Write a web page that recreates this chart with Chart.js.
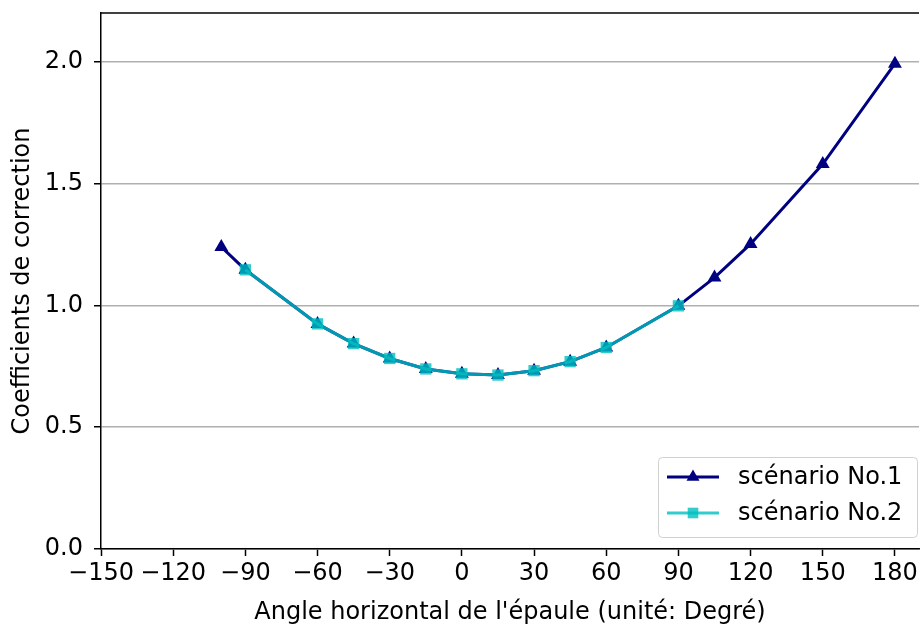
<!DOCTYPE html>
<html>
<head>
<meta charset="utf-8">
<script src="https://cdn.jsdelivr.net/npm/chart.js@4.4.1/dist/chart.umd.min.js"></script>
<style>
  html, body { margin: 0; padding: 0; background: #fff; overflow: hidden; }
  /* the reference figure is cropped on the right, so the plot runs past the window edge */
  #wrap { width: 927px; height: 624px; position: relative; }
</style>
</head>
<body>
<div id="wrap"><canvas id="chart"></canvas></div>
<script>
// angles (degrees) and correction coefficients
const angles1 = [-100, -90, -60, -45, -30, -15, 0, 15, 30, 45, 60, 90, 105, 120, 150, 180];
const coef1   = [1.24, 1.146, 0.924, 0.843, 0.782, 0.739, 0.719, 0.714, 0.732, 0.769, 0.827, 0.998, 1.114, 1.252, 1.58, 1.992];
const angles2 = [-90, -60, -45, -30, -15, 0, 15, 30, 45, 60, 90];
const coef2   = [1.146, 0.924, 0.843, 0.782, 0.739, 0.719, 0.714, 0.732, 0.769, 0.827, 0.998];
const seriesNames = ['scénario No.1', 'scénario No.2'];

const NAVY = '#000080';
const CYAN = 'rgba(0,191,191,0.8)';
const FONT = 'DejaVu Sans';
const FSIZE = 24;

const toPoints = (xs, ys) => xs.map((x, i) => ({ x: x, y: ys[i] }));
const minus = v => String(v).replace('-', '\u2212');

// top spine + legend inside the plot, like matplotlib
const framePlugin = {
    id: 'frame',
    afterDraw(chart) {
        const ctx = chart.ctx;
        const a = chart.chartArea;
        ctx.save();
        ctx.strokeStyle = '#000';
        ctx.lineWidth = 1.5;
        ctx.beginPath();
        ctx.moveTo(a.left, a.top);
        ctx.lineTo(a.right, a.top);
        ctx.stroke();

        // legend box
        const bx = 658, by = 457, bw = 259, bh = 80, r = 4;
        ctx.fillStyle = 'rgba(255,255,255,0.8)';
        ctx.strokeStyle = '#d0d0d0';
        ctx.lineWidth = 1;
        ctx.beginPath();
        ctx.roundRect(bx + 0.5, by + 0.5, bw, bh, r);
        ctx.fill();
        ctx.stroke();

        const rows = [
            { y: 477, color: NAVY, style: 'triangle' },
            { y: 513, color: CYAN, style: 'rect' }
        ];
        rows.forEach((row, i) => {
            ctx.strokeStyle = row.color;
            ctx.lineWidth = 3;
            ctx.beginPath();
            ctx.moveTo(667, row.y);
            ctx.lineTo(719, row.y);
            ctx.stroke();
            ctx.fillStyle = row.color;
            Chart.helpers.drawPoint(ctx, { pointStyle: row.style, radius: 7.5, borderWidth: 0, rotation: 0 }, 693, row.y);
            ctx.fillStyle = '#000';
            ctx.font = FSIZE + 'px "' + FONT + '"';
            ctx.textBaseline = 'middle';
            ctx.textAlign = 'left';
            ctx.fillText(seriesNames[i], 738, row.y + 1);
        });
        ctx.restore();
    }
};

new Chart(document.getElementById('chart'), {
    type: 'scatter',
    data: {
        datasets: [
            {
                label: seriesNames[0],
                data: toPoints(angles1, coef1),
                showLine: true,
                borderColor: NAVY,
                backgroundColor: NAVY,
                borderWidth: 3,
                pointStyle: 'triangle',
                pointRadius: 8,
                pointBorderWidth: 0,
                order: 1
            },
            {
                label: seriesNames[1],
                data: toPoints(angles2, coef2),
                showLine: true,
                borderColor: CYAN,
                backgroundColor: CYAN,
                borderWidth: 3,
                pointStyle: 'rect',
                pointRadius: 8,
                pointBorderWidth: 0,
                order: 0
            }
        ]
    },
    options: {
        responsive: true,
        maintainAspectRatio: false,
        animation: false,
        layout: { padding: { top: 13, right: 0, left: 0, bottom: 0 } },
        plugins: { legend: { display: false }, tooltip: { enabled: false } },
        scales: {
            x: {
                type: 'linear',
                min: -150,
                max: 190,
                afterBuildTicks: s => { s.ticks = s.ticks.filter(t => (t.value + 150) % 30 === 0); },
                afterFit: s => { s.height = 75; s.paddingLeft = 0; s.paddingRight = 0; },
                ticks: {
                    stepSize: 30,
                    includeBounds: false,
                    autoSkip: false,
                    color: '#000',
                    padding: 3,
                    maxRotation: 0,
                    font: { family: FONT, size: FSIZE },
                    callback: v => minus(v)
                },
                grid: { drawOnChartArea: false, tickLength: 7, tickColor: '#000', tickWidth: 1.5 },
                border: { color: '#000', width: 1.5 },
                title: {
                    display: true,
                    text: "Angle horizontal de l'épaule (unité: Degré)",
                    color: '#000',
                    font: { family: FONT, size: FSIZE },
                    padding: { top: 0, bottom: -3 }
                }
            },
            y: {
                min: 0,
                max: 2.2,
                afterBuildTicks: s => { s.ticks = s.ticks.filter(t => Math.abs(t.value * 2 - Math.round(t.value * 2)) < 1e-9); },
                afterFit: s => { s.width = 101; s.paddingTop = 0; s.paddingBottom = 0; },
                ticks: {
                    stepSize: 0.5,
                    includeBounds: false,
                    color: '#000',
                    padding: 11,
                    font: { family: FONT, size: FSIZE },
                    callback: v => v.toFixed(1)
                },
                grid: { color: '#b0b0b0', lineWidth: 1.5, tickLength: 7, tickColor: '#000', tickWidth: 1.5 },
                border: { color: '#000', width: 1.5 },
                title: {
                    display: true,
                    text: 'Coefficients de correction',
                    color: '#000',
                    font: { family: FONT, size: FSIZE },
                    padding: { top: 8, bottom: 0 }
                }
            }
        }
    },
    plugins: [framePlugin]
});
</script>
</body>
</html>
